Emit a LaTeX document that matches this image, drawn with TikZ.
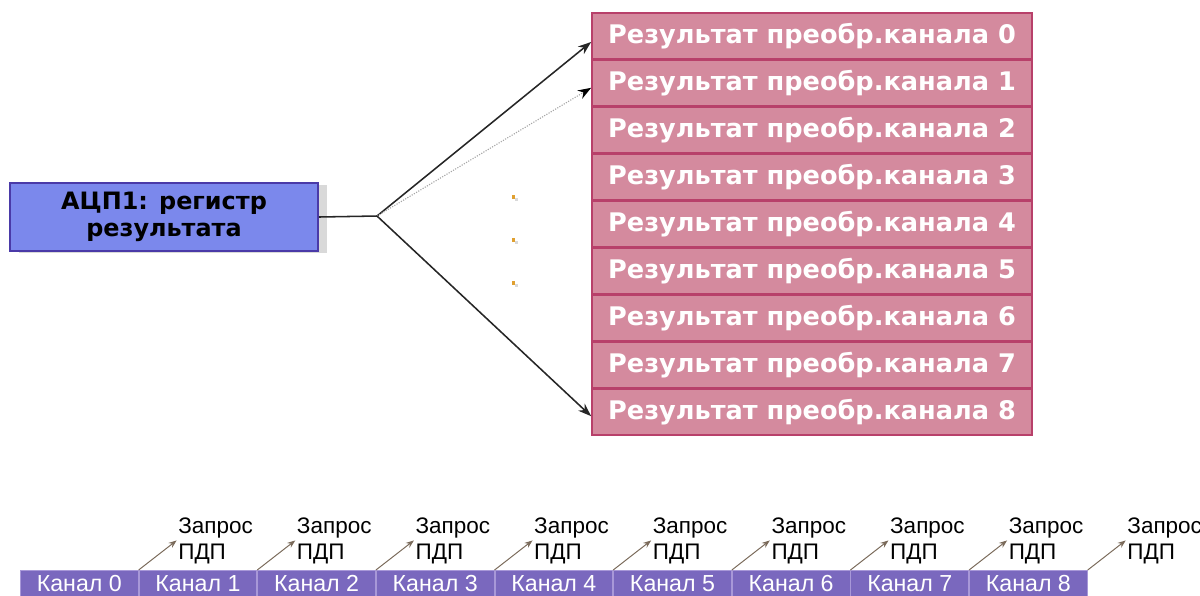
\documentclass[tikz,border=0pt]{standalone}
\usepackage{fontspec}
\setmainfont{DejaVu Sans}
\newfontfamily\labfont{Liberation Sans}
\usepackage{xcolor}
\usepackage{tikz}
\usetikzlibrary{arrows.meta, positioning, shadows, calc}

\definecolor{regblue}{HTML}{7B88EC}
\definecolor{regedge}{HTML}{4A3AA8}
\definecolor{resfill}{HTML}{D48A9E}
\definecolor{resedge}{HTML}{B8406A}
\definecolor{chfill}{HTML}{7A68BE}
\definecolor{chedge}{HTML}{A898D8}
\definecolor{reqline}{HTML}{7A6A5A}
\definecolor{dotorange}{HTML}{E0A030}

\begin{document}
\begin{tikzpicture}[
    x=0.025cm, y=-0.025cm,
    node distance=0pt,
    % Styles
    register/.style={rectangle, draw=regedge, fill=regblue, line width=1.2pt, minimum width=7.7cm, minimum height=1.7cm, align=center, font=\bfseries\fontsize{17}{19}\selectfont, drop shadow={shadow xshift=0.22cm, shadow yshift=-0.04cm, fill=black!15, opacity=1}},
    result/.style={rectangle, draw=resedge, fill=resfill, line width=1.2pt, minimum width=11cm, minimum height=1.133cm, text=white, font=\bfseries\fontsize{18.2}{20}\selectfont},
    channel/.style={rectangle, draw=chedge, fill=chfill, line width=0.6pt, minimum width=2.944cm, minimum height=0.65cm, text=white, font=\labfont\fontsize{16.5}{17}\selectfont},
    request/.style={rectangle, inner sep=1pt, align=left, font=\labfont\fontsize{16}{18.5}\selectfont},
    link/.style={line width=1.1pt, draw=black!85},
    arrow/.style={-{Stealth[length=3.3mm, width=2.4mm]}, line width=1.1pt, draw=black!85},
    dimarrow/.style={-{Stealth[length=3.3mm, width=2.4mm, color=black]}, line width=0.8pt, densely dotted, draw=gray!70},
    reqarrow/.style={-{Stealth[length=2mm, width=1.5mm]}, line width=0.7pt, draw=reqline}
]
\useasboundingbox (0,0) rectangle (1200,595);

% ------------------- ADC RESULT REGISTER -------------------
\node[register] (reg) at (164,217) {АЦП1: регистр\\результата};
\coordinate (fork) at (377,216);

% ------------------- RESULT BUFFER -------------------
\node[result] (r0) at (812,36) {Результат преобр.канала 0};
\foreach \i [count=\p from 0] in {1,...,8}
    \node[result, below=of r\p] (r\i) {Результат преобр.канала \i};

\draw[link] (reg.east) -- (fork);
\draw[arrow] (fork) -- ([yshift=-0.15cm]r0.west);
\draw[dimarrow] (fork) -- ([yshift=-0.12cm]r1.west);
\draw[arrow] (fork) -- ([yshift=-0.1cm]r8.west);

% dots
\foreach \yy in {195,238,281} {
    \fill[gray!30] (515,\yy+3) rectangle ++(3,3);
    \fill[dotorange] (512,\yy) rectangle ++(3,4);
}

% ------------------- DMA CHANNELS -------------------
\node[channel, anchor=north west] (k0) at (20,570) {Канал 0};
\foreach \i [count=\p from 0] in {1,...,8}
    \node[channel, right=of k\p] (k\i) {Канал \i};

\foreach \i in {1,...,8} {
    \node[request, above right=0.12cm and 0.95cm of k\i.north west] (q\i) {Запрос\\ПДП};
    \draw[reqarrow] (k\i.north west) -- (q\i.west);
}
\node[request, above right=0.12cm and 0.95cm of k8.north east] (q9) {Запрос\\ПДП};
\draw[reqarrow] (k8.north east) -- (q9.west);

\end{tikzpicture}
\end{document}
